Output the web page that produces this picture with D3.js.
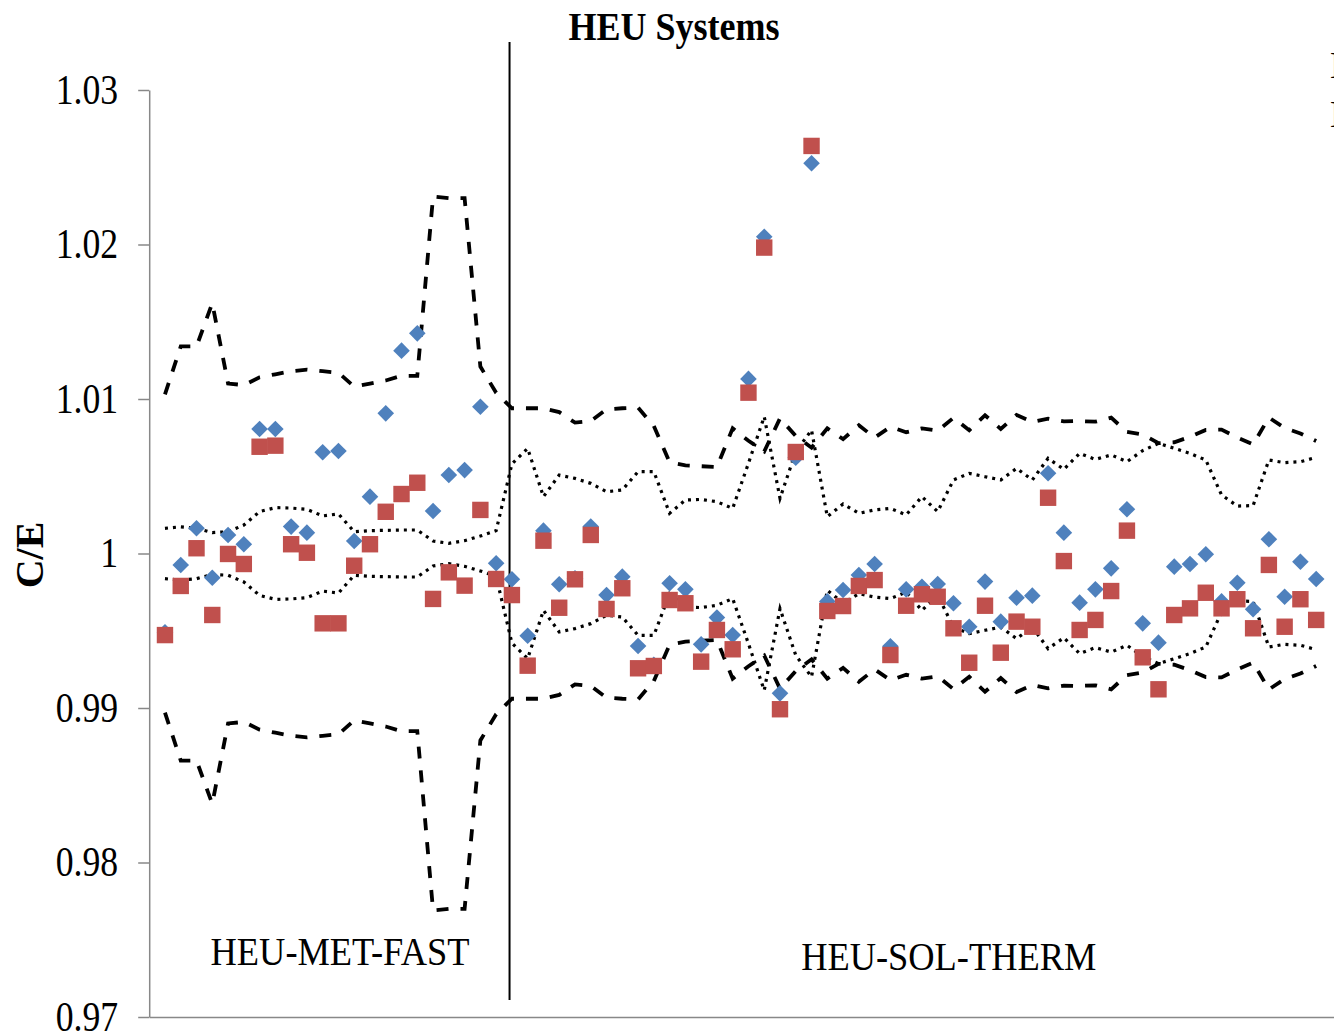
<!DOCTYPE html>
<html>
<head>
<meta charset="utf-8">
<script src="https://cdnjs.cloudflare.com/ajax/libs/d3/7.8.5/d3.min.js"></script>
<style>
  html, body { margin: 0; padding: 0; background: #fff; overflow: hidden; }
  svg { display: block; }
  text { font-family: "Liberation Serif", "Times New Roman", serif; fill: #000; }
</style>
</head>
<body>
<div id="chart"></div>
<script>
// benchmark case number along the x axis
const caseIndex = d3.range(1, 75);

// C/E, blue diamonds
const ceDiamond = [
  0.9949, 0.99926, 1.00163, 0.99843, 1.0012, 1.0006, 1.00806, 1.00806, 1.00174, 1.00135,
  1.00655, 1.00663, 1.00081, 1.00368, 1.00907, 1.01313, 1.01425, 1.00275, 1.00508, 1.0054,
  1.0095, 0.99937, 0.99833, 0.99468, 1.00148, 0.99801, 0.9984, 1.00174, 0.99731, 0.9985,
  0.99401, 0.9928, 0.99807, 0.99768, 0.99412, 0.99585, 0.99472, 1.0113, 1.0205, 0.99095,
  1.0062, 1.02526, 0.9969, 0.99764, 0.99861, 0.99932, 0.9940, 0.99768, 0.99785, 0.99803,
  0.99678, 0.99526, 0.99818, 0.99559, 0.99714, 0.99727, 1.00519, 1.00135, 0.99682, 0.99768,
  0.99904, 1.00286, 0.99548, 0.99423, 0.99915, 0.99932, 0.99995, 0.9969, 0.99811, 0.99639,
  1.00092, 0.9972, 0.99947, 0.99835
];

// C/E, red squares
const ceSquare = [
  0.99472, 0.9979, 1.00034, 0.99602, 0.99997, 0.99932, 1.00691, 1.00698, 1.0006, 1.00005,
  0.99548, 0.99548, 0.99921, 1.0006, 1.0027, 1.00385, 1.00458, 0.99706, 0.99878, 0.99792,
  1.00282, 0.99835, 0.99731, 0.99274, 1.00083, 0.99649, 0.99833, 1.0012, 0.99641, 0.99775,
  0.99257, 0.99272, 0.99699, 0.99678, 0.993, 0.99505, 0.9938, 1.01041, 1.0198, 0.98992,
  1.00657, 1.02638, 0.99628, 0.9966, 0.9979, 0.99828, 0.99343, 0.99662, 0.99736, 0.9972,
  0.99516, 0.99293, 0.99662, 0.99358, 0.99559, 0.99526, 1.00361, 0.99951, 0.99505, 0.9957,
  0.99757, 1.00148, 0.99328, 0.99121, 0.99602, 0.99645, 0.99746, 0.99645, 0.99704, 0.99516,
  0.99926, 0.99526, 0.99704, 0.9957
];

// half-widths of the bands around 1, in per mille
const dashedBand = [
  10.3, 13.4, 13.4, 16.2, 11.0, 10.9, 11.4, 11.6, 11.8, 11.9,
  11.8, 11.7, 10.8, 11.0, 11.2, 11.5, 11.5, 23.1, 23.0, 23.0,
  12.1, 10.4, 9.4, 9.4, 9.4, 9.15, 8.47, 8.57, 9.33, 9.4,
  9.44, 8.25, 5.9, 5.7, 5.65, 5.6, 8.1, 7.3, 6.6, 8.75,
  7.6, 6.85, 8.1, 7.4, 8.3, 7.5, 8.2, 7.85, 8.1, 7.95,
  8.78, 7.98, 8.95, 8.06, 8.97, 8.52, 8.73, 8.55, 8.57, 8.53,
  8.79, 7.87, 7.7, 7.14, 7.2, 7.55, 8.0, 8.02, 7.5, 7.06,
  8.8, 8.12, 7.77, 7.28
];
const dottedBand = [
  1.63, 1.73, 1.63, 1.35, 1.41, 1.84, 2.71, 2.97, 2.94, 2.86,
  2.43, 2.56, 1.41, 1.48, 1.5, 1.52, 1.52, 0.81, 0.66, 0.83,
  1.13, 1.48, 5.8, 6.8, 3.68, 5.08, 4.86, 4.54, 4.0, 4.11,
  5.3, 5.3, 2.6, 3.46, 3.5, 3.35, 2.92, 5.84, 8.86, 3.57,
  6.59, 7.99, 2.38, 3.2, 2.6, 2.82, 2.92, 2.5, 3.68, 2.71,
  4.76, 5.19, 4.97, 4.76, 5.51, 4.76, 6.16, 5.45, 6.48, 6.09,
  6.38, 5.94, 6.66, 7.13, 6.81, 6.48, 6.05, 3.79, 3.07, 3.1,
  6.05, 5.88, 5.94, 6.22
];

const yTicks = [0.97, 0.98, 0.99, 1.00, 1.01, 1.02, 1.03];
const yTickLabels = ["0.97", "0.98", "0.99", "1", "1.01", "1.02", "1.03"];
const groupLabels = ["HEU-MET-FAST", "HEU-SOL-THERM"];
const groupLabelAt = [12.1, 50.7];
const dividerAt = 22.85;
const seriesNames = ["ENDF/B-VII.0", "ENDF/B-VII.1"];

const width = 1334, height = 1034;

const svg = d3.select("#chart").append("svg")
    .attr("width", width)
    .attr("height", height);

const x = d3.scaleLinear().domain([0, 76]).range([149.2, 149.2 + 76 * 15.77]);
const y = d3.scaleLinear().domain([0.97, 1.03]).range([1017, 90]);

// squeeze text horizontally like the original picture
function squeeze(sel, k) {
  sel.each(function() {
    const w = this.getComputedTextLength();
    d3.select(this).attr("textLength", w * k).attr("lengthAdjust", "spacingAndGlyphs");
  });
}

// axes
const yAxis = svg.append("g")
    .attr("transform", "translate(" + x(0) + ",0)")
    .call(d3.axisLeft(y).tickValues(yTicks)
      .tickFormat((d, i) => yTickLabels[i])
      .tickSize(11).tickSizeOuter(0).tickPadding(20));
yAxis.select(".domain").attr("stroke", "#888").attr("stroke-width", 1.5);
yAxis.selectAll(".tick line").attr("stroke", "#888").attr("stroke-width", 1.5);
yAxis.selectAll(".tick text")
    .attr("font-family", "Liberation Serif")
    .attr("font-size", 42)
    .attr("fill", "#000");
squeeze(yAxis.selectAll(".tick text"), 0.85);

const xAxis = svg.append("g")
    .attr("transform", "translate(0," + y(0.97) + ")")
    .call(d3.axisBottom(x).tickValues([]).tickSizeOuter(0));
xAxis.select(".domain").attr("stroke", "#888").attr("stroke-width", 1.5);

// band lines
const rows = caseIndex.map((c, i) => ({
  c: c, a: ceDiamond[i], b: ceSquare[i],
  dash: dashedBand[i] / 1000, dot: dottedBand[i] / 1000
}));

const line = d3.line().x(d => x(d[0])).y(d => y(d[1]));

const bands = [
  {key: "dash", sign: 1, dasharray: "12,12", w: 3.8},
  {key: "dash", sign: -1, dasharray: "12,12", w: 3.8},
  {key: "dot", sign: 1, dasharray: "3,5", w: 3.2},
  {key: "dot", sign: -1, dasharray: "3,5", w: 3.2}
];

svg.append("g").selectAll("path")
  .data(bands)
  .enter().append("path")
    .attr("fill", "none")
    .attr("stroke", "#000")
    .attr("stroke-width", d => d.w)
    .attr("stroke-dasharray", d => d.dasharray)
    .attr("d", b => line(rows.map(r => [r.c, 1 + b.sign * r[b.key]])));

// divider between the two groups
svg.append("line")
    .attr("x1", x(dividerAt)).attr("x2", x(dividerAt))
    .attr("y1", 42).attr("y2", 1000)
    .attr("stroke", "#000")
    .attr("stroke-width", 2);

// markers
svg.append("g").selectAll("path")
  .data(rows)
  .enter().append("path")
    .attr("d", d3.symbol(d3.symbolSquare, 138)())
    .attr("transform", d => "translate(" + x(d.c) + "," + y(d.a) + ") rotate(45)")
    .attr("fill", "#4F81BD");

svg.append("g").selectAll("rect")
  .data(rows)
  .enter().append("rect")
    .attr("x", d => x(d.c) - 8.2)
    .attr("y", d => y(d.b) - 8.2)
    .attr("width", 16.4)
    .attr("height", 16.4)
    .attr("fill", "#C0504D");

// texts
const title = svg.append("text")
    .attr("x", 674).attr("y", 40)
    .attr("text-anchor", "middle")
    .attr("font-size", 40)
    .attr("font-weight", "bold")
    .text("HEU Systems");
squeeze(title, 0.9);

const groups = svg.append("g").selectAll("text")
  .data(groupLabels)
  .enter().append("text")
    .attr("x", (d, i) => x(groupLabelAt[i]))
    .attr("y", (d, i) => i === 0 ? 965 : 970)
    .attr("text-anchor", "middle")
    .attr("font-size", 40)
    .text(d => d);
squeeze(groups, 0.91);

svg.append("text")
    .attr("transform", "translate(43,555) rotate(-90)")
    .attr("text-anchor", "middle")
    .attr("font-size", 40)
    .attr("font-weight", "bold")
    .text("C/E");

// legend, cut off at the right edge as in the source picture
svg.append("g").selectAll("text")
  .data(seriesNames)
  .enter().append("text")
    .attr("x", 1330)
    .attr("y", (d, i) => i === 0 ? 78 : 127)
    .attr("font-size", 38)
    .text(d => d);
</script>
</body>
</html>
